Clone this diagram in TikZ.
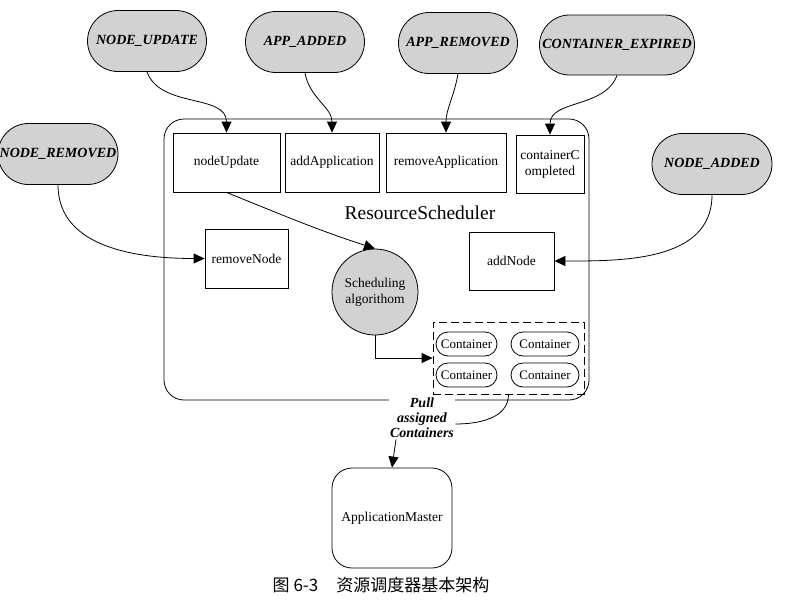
\documentclass[tikz,border=0pt]{standalone}
\usepackage{fontspec}
\setmainfont{Liberation Serif}
\newfontfamily\cjkfont{Noto Sans CJK SC}
\usetikzlibrary{positioning,arrows.meta,calc,shapes.misc}
\tikzset{
  flowarrow/.style={-{Triangle[length=11pt,width=10pt]}},
  evtnode/.style={draw, rounded rectangle, fill=gray!35, minimum width=119pt, minimum height=61pt, inner sep=0pt, font=\fontsize{14}{16}\selectfont\bfseries\itshape},
  opbox/.style={draw, fill=white, minimum height=59pt, inner sep=1pt, align=center, font=\fontsize{13.5}{16}\selectfont},
  rsbox/.style={draw, rounded corners=20pt, minimum width=425pt, minimum height=281pt},
  algo/.style={draw, circle, fill=gray!35, minimum size=86pt, inner sep=0pt, align=center, font=\fontsize{13.5}{16}\selectfont},
  contbox/.style={draw, dashed, dash pattern=on 8pt off 4pt, minimum width=151pt, minimum height=72pt},
  contpill/.style={draw, rounded rectangle, fill=white, minimum height=24pt, inner sep=1pt, font=\fontsize{13}{15}\selectfont},
  pullnote/.style={fill=white, inner sep=1pt, align=center, font=\fontsize{14}{15}\selectfont\bfseries\itshape},
  amnode/.style={draw, rounded corners=20pt, minimum width=120pt, minimum height=100pt, font=\fontsize{13.5}{16}\selectfont}
}

\begin{document}
\begin{tikzpicture}[x=1pt, y=-1pt, line width=0.8pt]
  \useasboundingbox (0,0) rectangle (796,603);
  % scheduler body
  \node[rsbox] (rs) at (376.5,259.5) {};
  \node[font=\fontsize{19.5}{22}\selectfont] (rstitle) at (420,213) {ResourceScheduler};
  \node[opbox, minimum width=107pt] (nodeupd) at (226.5,162.5) {nodeUpdate};
  \node[opbox, minimum width=94pt] (addapp) at (332,162.5) {addApplication};
  \node[opbox, minimum width=120pt] (remapp) at (446,162.5) {removeApplication};
  \node[opbox, minimum width=68pt, minimum height=58pt] (contcomp) at (550,164) {containerC\\ompleted};
  \node[opbox, minimum width=83pt] (remnode) at (246.5,258.5) {removeNode};
  \node[opbox, minimum width=85pt, minimum height=58pt] (addnode) at (511.5,261) {addNode};
  \node[algo] (sched) at (375,292) {Scheduling\\algorithom};
  % assigned containers
  \node[contbox] (cbox) at (508.5,358) {};
  \node[contpill, minimum width=63pt] (c1) at (466.5,344) {Container};
  \node[contpill, minimum width=70pt] (c2) at (545,344) {Container};
  \node[contpill, minimum width=63pt] (c3) at (466.5,375) {Container};
  \node[contpill, minimum width=70pt] (c4) at (545,375) {Container};
  \node[pullnote] (pull) at (422,418) {Pull\\assigned\\Containers};
  \node[amnode] (am) at (392,518) {ApplicationMaster};
  % events
  \node[evtnode] (nupd) at (147,41) {NODE\_UPDATE};
  \node[evtnode] (aadd) at (305,42) {APP\_ADDED};
  \node[evtnode] (arem) at (458,43) {APP\_REMOVED};
  \node[evtnode, minimum width=155pt, minimum height=60pt] (cexp) at (617,45) {CONTAINER\_EXPIRED};
  \node[evtnode, minimum width=120pt] (nrem) at (58,154) {NODE\_REMOVED};
  \node[evtnode, minimum width=120pt] (nadd) at (712,164) {NODE\_ADDED};
  % connectors
  \draw[flowarrow] (nupd.south) to[out=-70,in=90] (nodeupd.north);
  \draw[flowarrow] (aadd.south) to[out=-80,in=90] (addapp.north);
  \draw[flowarrow] (arem.south) to[out=-100,in=90] (remapp.north);
  \draw[flowarrow] (cexp.south) to[out=-110,in=90] (contcomp.north);
  \draw[flowarrow] (nrem.south) to[out=-90,in=180] (remnode.west);
  \draw[flowarrow] (nadd.south) to[out=-90,in=0] (addnode.east);
  \draw[flowarrow] (nodeupd.south) to[out=-22,in=162] (sched.north);
  \draw[flowarrow] (sched.south) |- (cbox.west);
  \draw (cbox.south) to[out=-90,in=0] ([yshift=-6pt]pull.east);
  \draw[flowarrow] ($(pull.south)+(-26,0)$) -- (am.north);
  % caption
  \node[font=\cjkfont\fontsize{17}{19}\selectfont] (cap) at (381,585) {图 6-3\hspace{18pt}资源调度器基本架构};
\end{tikzpicture}
\end{document}
